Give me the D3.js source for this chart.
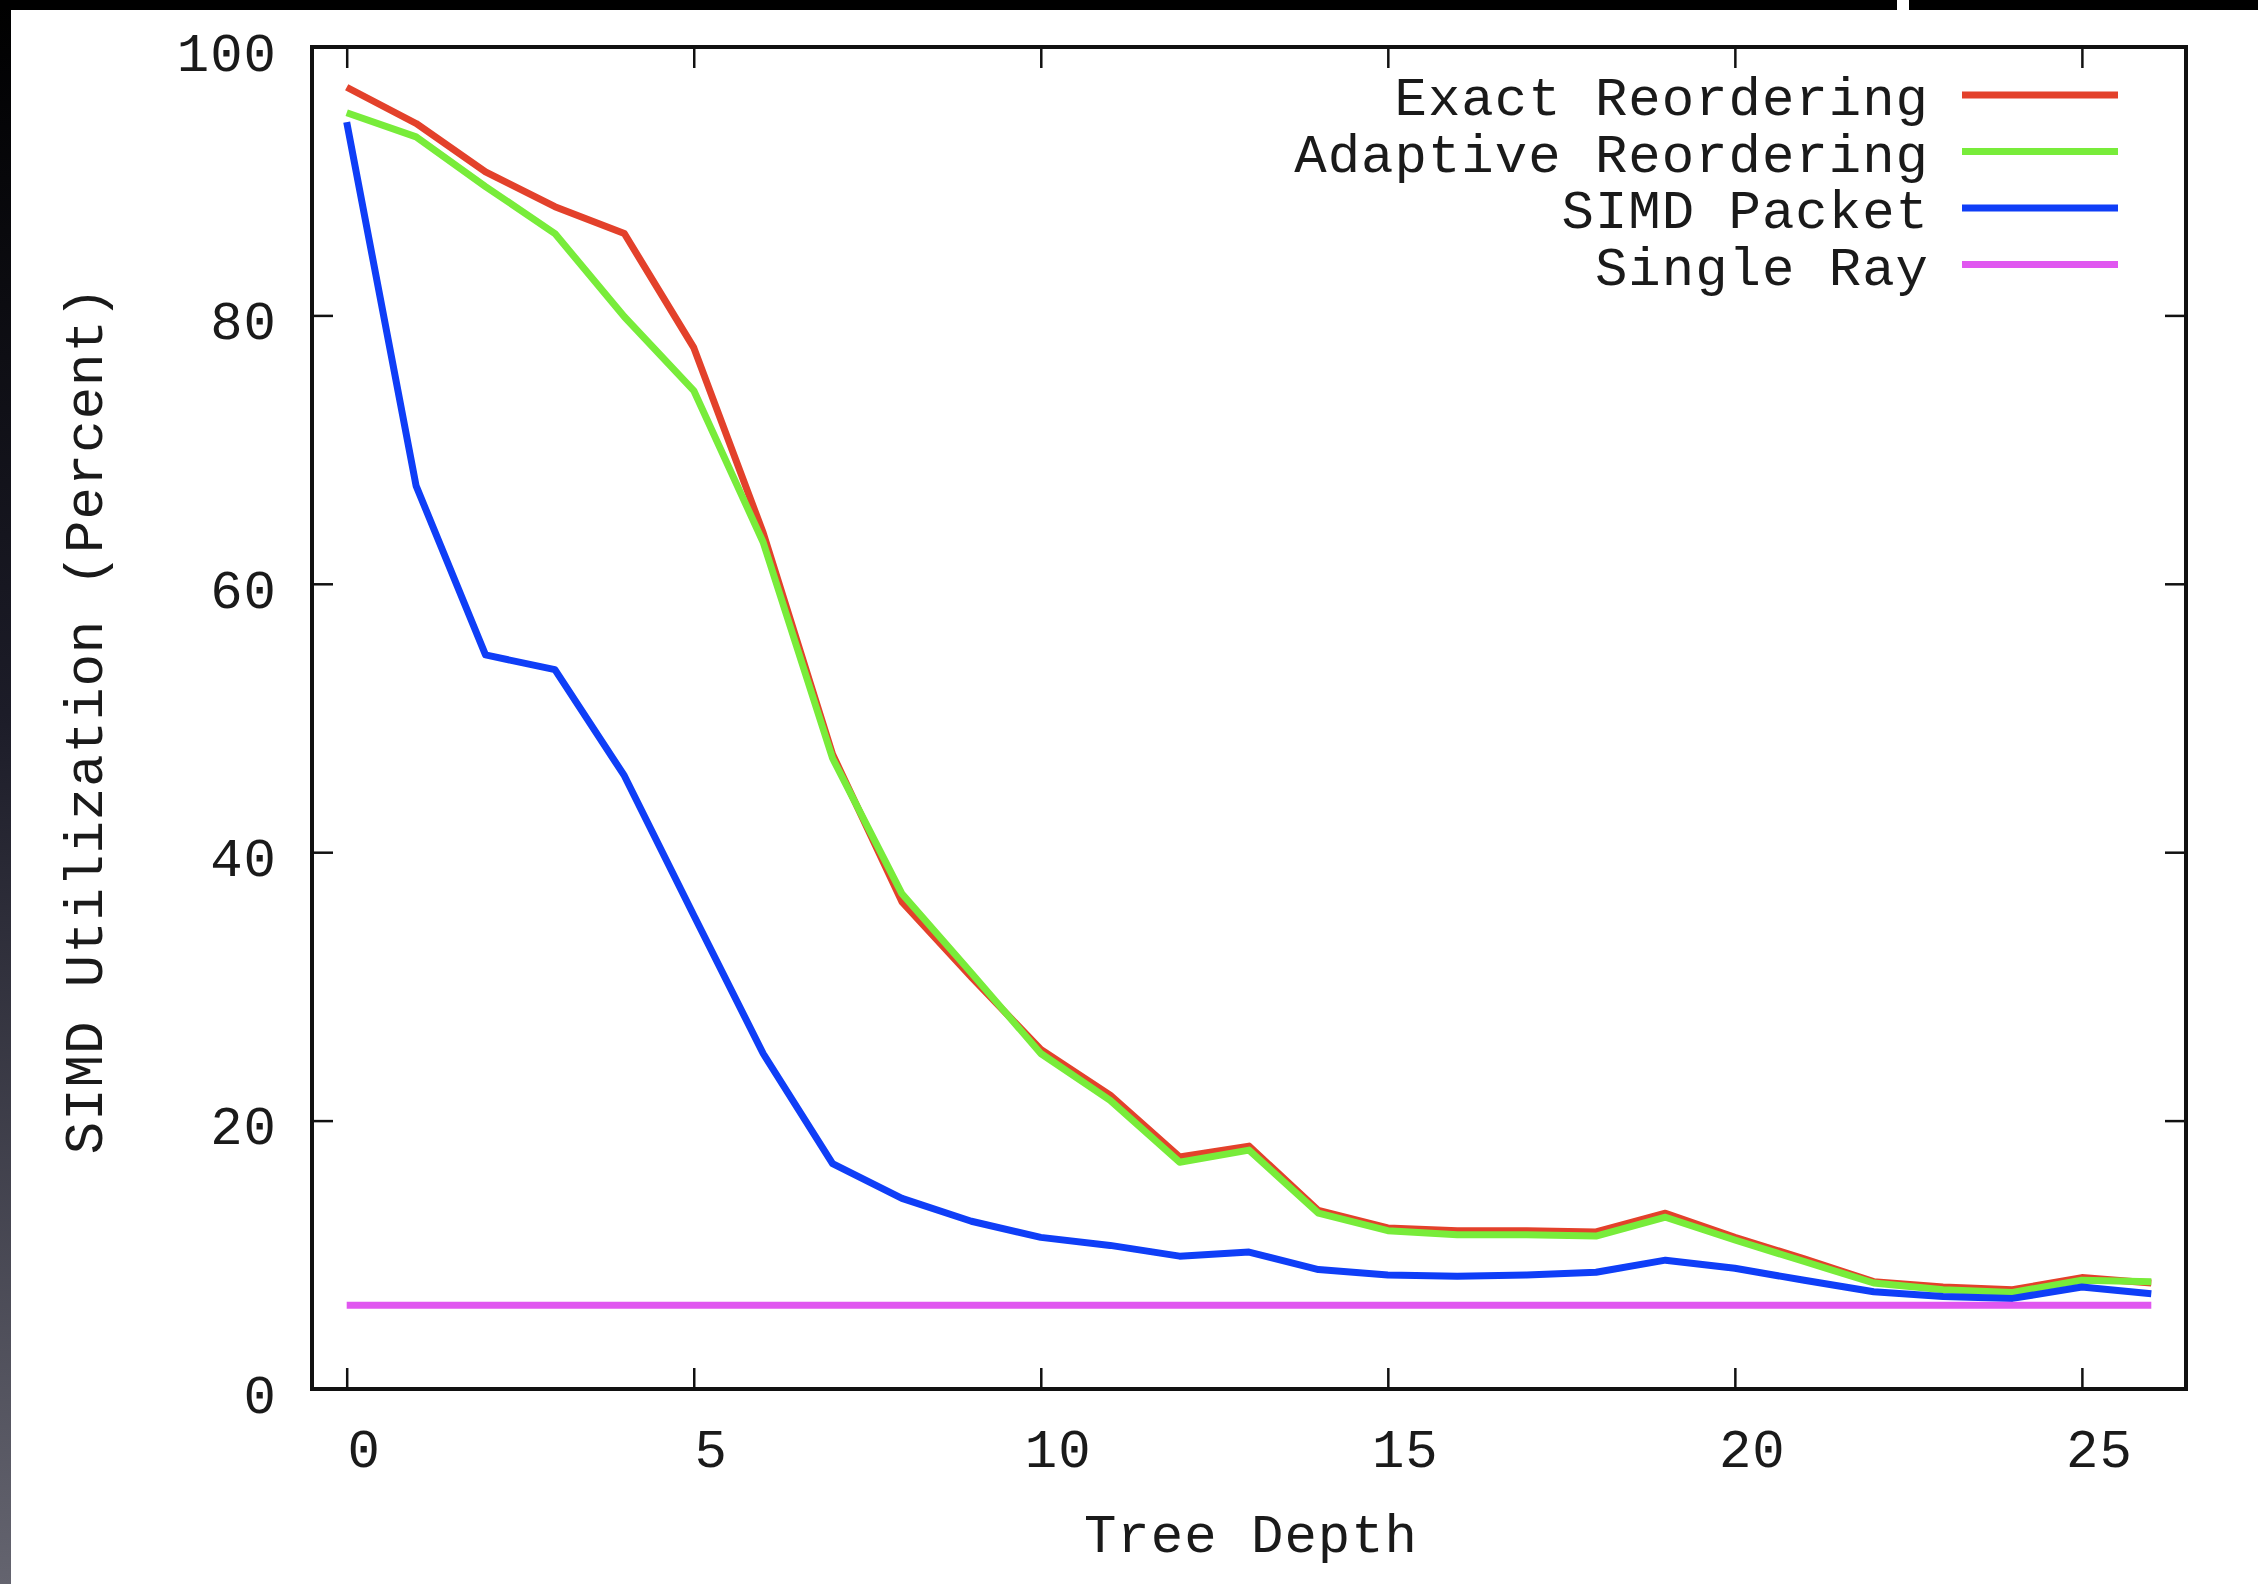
<!DOCTYPE html>
<html>
<head>
<meta charset="utf-8">
<script src="https://cdn.jsdelivr.net/npm/d3@7"></script>
<style>
  body { margin: 0; background: #fff; }
  text { font-family: "Liberation Mono", "DejaVu Sans Mono", monospace; fill: #1a1a1a; }
</style>
</head>
<body>
<div id="chart"></div>
<script>
// Data
const depth = [0, 1, 2, 3, 4, 5, 6, 7, 8, 9, 10, 11, 12, 13, 14, 15, 16, 17, 18, 19, 20, 21, 22, 23, 24, 25, 26];
const exactReordering = [97.0, 94.3, 90.7, 88.1, 86.1, 77.6, 63.8, 47.3, 36.3, 30.7, 25.3, 21.9, 17.3, 18.1, 13.3, 12.0, 11.8, 11.8, 11.7, 13.1, 11.3, 9.7, 8.0, 7.6, 7.4, 8.3, 7.9];
const adaptiveReordering = [95.1, 93.3, 89.6, 86.1, 79.9, 74.4, 63.1, 47.0, 36.9, 31.0, 25.0, 21.5, 16.9, 17.8, 13.1, 11.8, 11.5, 11.5, 11.4, 12.8, 11.1, 9.5, 7.9, 7.4, 7.2, 8.1, 8.0];
const simdPacket = [94.4, 67.3, 54.7, 53.6, 45.7, 35.3, 25.0, 16.8, 14.2, 12.5, 11.3, 10.7, 9.9, 10.2, 8.9, 8.5, 8.4, 8.5, 8.7, 9.6, 9.0, 8.1, 7.25, 6.9, 6.75, 7.6, 7.1];
const singleRay = [6.25, 6.25, 6.25, 6.25, 6.25, 6.25, 6.25, 6.25, 6.25, 6.25, 6.25, 6.25, 6.25, 6.25, 6.25, 6.25, 6.25, 6.25, 6.25, 6.25, 6.25, 6.25, 6.25, 6.25, 6.25, 6.25, 6.25];

const seriesNames = ["Exact Reordering", "Adaptive Reordering", "SIMD Packet", "Single Ray"];
const seriesValues = [exactReordering, adaptiveReordering, simdPacket, singleRay];
const seriesColors = ["#e3412b", "#78ec3a", "#0f3ef7", "#e057f0"];
const xTicks = [0, 5, 10, 15, 20, 25];
const yTicks = [0, 20, 40, 60, 80, 100];

const W = 2258, H = 1584;
const margin = {top: 47, right: 72, bottom: 195, left: 312},
      width = W - margin.left - margin.right,
      height = H - margin.top - margin.bottom;

const root = d3.select("#chart")
  .append("svg")
    .attr("width", W)
    .attr("height", H);

// dark slide edges round the screenshot
const grad = root.append("defs").append("linearGradient")
  .attr("id", "edge").attr("x1", 0).attr("y1", 0).attr("x2", 0).attr("y2", 1);
grad.append("stop").attr("offset", "0%").attr("stop-color", "#000");
grad.append("stop").attr("offset", "45%").attr("stop-color", "#1c1c28");
grad.append("stop").attr("offset", "100%").attr("stop-color", "#64646f");
root.append("rect").attr("x", 0).attr("y", 0).attr("width", 11).attr("height", H).attr("fill", "url(#edge)");
root.append("rect").attr("x", 0).attr("y", 0).attr("width", W).attr("height", 10).attr("fill", "#000");
root.append("rect").attr("x", 1897).attr("y", 0).attr("width", 12).attr("height", 10).attr("fill", "#fff");

const svg = root.append("g")
  .attr("transform", `translate(${margin.left},${margin.top})`);

const x = d3.scaleLinear().domain([-0.5, 26.5]).range([0, width]);
const y = d3.scaleLinear().domain([0, 100]).range([height, 0]);

// Axes (ticks pointing inward, mirrored on top/right)
const gx = svg.append("g")
  .attr("transform", `translate(0,${height})`)
  .call(d3.axisBottom(x).tickValues(xTicks).tickSize(-21).tickSizeOuter(0).tickPadding(40));
gx.selectAll("text").attr("x", 17).style("font-size", "54px").style("letter-spacing", "1px");

const gy = svg.append("g")
  .call(d3.axisLeft(y).tickValues(yTicks).tickSize(-21).tickSizeOuter(0).tickPadding(35));
gy.selectAll("text").attr("dy", "0.43em").style("font-size", "54px").style("letter-spacing", "1px");

svg.append("g")
  .call(d3.axisTop(x).tickValues(xTicks).tickSize(-21).tickSizeOuter(0).tickFormat(""));
svg.append("g")
  .attr("transform", `translate(${width},0)`)
  .call(d3.axisRight(y).tickValues(yTicks).tickSize(-21).tickSizeOuter(0).tickFormat(""));

svg.selectAll(".domain").remove();
svg.selectAll(".tick line").attr("stroke", "#111").attr("stroke-width", 2.5);

// Lines
const line = d3.line()
  .x((d, i) => x(depth[i]))
  .y(d => y(d));

seriesValues.forEach((vals, k) => {
  svg.append("path")
    .datum(vals)
    .attr("fill", "none")
    .attr("stroke", seriesColors[k])
    .attr("stroke-width", 7)
    .attr("stroke-linejoin", "round")
    .attr("d", line);
});

// Frame
svg.append("rect")
  .attr("width", width)
  .attr("height", height)
  .attr("fill", "none")
  .attr("stroke", "#111")
  .attr("stroke-width", 4);

// Legend
const legend = svg.append("g")
  .attr("transform", `translate(${1929 - margin.left},${95 - margin.top})`);
seriesNames.forEach((name, k) => {
  const row = legend.append("g").attr("transform", `translate(0,${k * 56.5})`);
  row.append("text")
    .attr("x", 0)
    .attr("y", 20)
    .attr("text-anchor", "end")
    .style("font-size", "54px")
    .style("letter-spacing", "1px")
    .text(name);
  row.append("line")
    .attr("x1", 33).attr("x2", 189)
    .attr("y1", 0).attr("y2", 0)
    .attr("stroke", seriesColors[k])
    .attr("stroke-width", 7);
});

// Axis titles
root.append("text")
  .attr("x", 1251)
  .attr("y", 1552)
  .attr("text-anchor", "middle")
  .style("font-size", "54px")
  .style("letter-spacing", "1px")
  .text("Tree Depth");

root.append("text")
  .attr("transform", "translate(102,720)rotate(-90)")
  .attr("text-anchor", "middle")
  .style("font-size", "54px")
  .style("letter-spacing", "1px")
  .text("SIMD Utilization (Percent)");
</script>
</body>
</html>
